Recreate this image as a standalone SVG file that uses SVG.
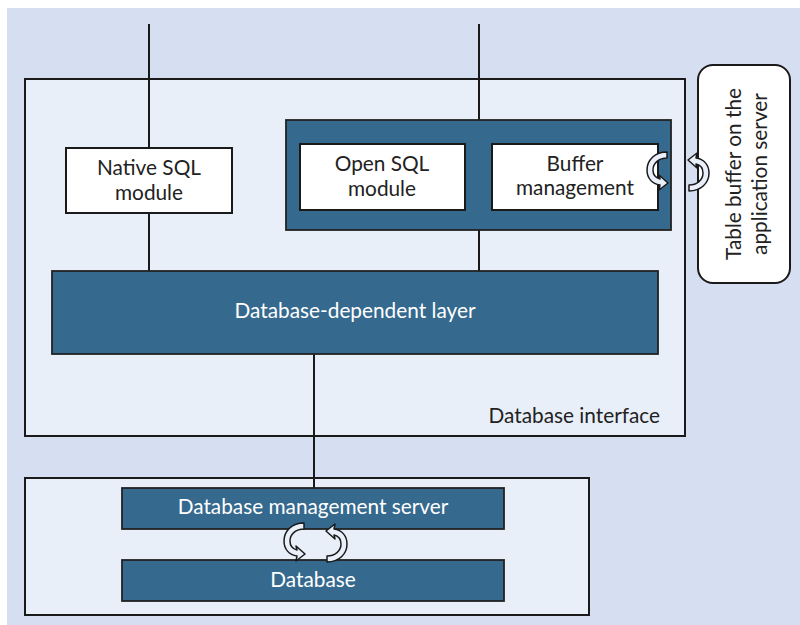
<svg xmlns="http://www.w3.org/2000/svg" width="800" height="625" viewBox="0 0 800 625">
  <style>
    .frame { fill: #e9eff9; stroke: #1a1a1a; stroke-width: 2; }
    .dark { fill: #35698e; stroke: #222; stroke-width: 1.8; }
    .white { fill: #ffffff; stroke: #1a1a1a; stroke-width: 2; }
    .wire { stroke: #1a1a1a; stroke-width: 2; fill: none; }
    .lbl { font-family: Lato, "Open Sans", sans-serif; font-size: 20.8px; fill: #222; text-anchor: middle; }
    .lbl-w { font-family: Lato, "Open Sans", sans-serif; font-size: 20.8px; fill: #ffffff; text-anchor: middle; }
    .cyc { fill: #eaf0fa; stroke: #1a1a1a; stroke-width: 1.5; stroke-linejoin: round; }
  </style>
  <defs>
    <!-- curved exchange arrow: tail top-right, head bottom-right -->
    <path id="curl" d="M 20,0 L 20,6 C 12,6 6,11 6,18 C 6,23 9,26 13,27 L 12,23 L 21,31 L 12,38 L 13,33 C 5,32 0,26 0,18 C 0,8 8,0 20,0 Z"/>
  </defs>

  <!-- backdrop -->
  <rect x="7" y="8" width="793" height="617" fill="#d6dff2"/>

  <!-- database interface container -->
  <g id="db-interface">
    <rect class="frame" x="25" y="79" width="660" height="357"/>
    <text class="lbl" x="660" y="423" style="text-anchor:end">Database interface</text>
  </g>

  <!-- database server container -->
  <g id="db-server">
    <rect class="frame" x="25" y="478" width="564" height="137"/>
  </g>

  <!-- connectors -->
  <g id="connectors">
    <line class="wire" x1="149" y1="24" x2="149" y2="148"/>
    <line class="wire" x1="149" y1="213" x2="149" y2="271"/>
    <line class="wire" x1="479" y1="24" x2="479" y2="120"/>
    <line class="wire" x1="479" y1="230" x2="479" y2="271"/>
    <line class="wire" x1="314" y1="354" x2="314" y2="488"/>
  </g>

  <g id="native-sql">
    <rect class="white" x="66" y="148" width="166" height="65"/>
    <text class="lbl" x="149" y="175">Native SQL</text>
    <text class="lbl" x="149" y="200">module</text>
  </g>

  <g id="open-sql-group">
    <rect class="dark" x="286" y="120" width="385" height="110"/>
  </g>

  <g id="open-sql">
    <rect class="white" x="300" y="144" width="165" height="66"/>
    <text class="lbl" x="382" y="171">Open SQL</text>
    <text class="lbl" x="382" y="196">module</text>
  </g>

  <g id="buffer-management">
    <rect class="white" x="492" y="144" width="166" height="66"/>
    <text class="lbl" x="575" y="171">Buffer</text>
    <text class="lbl" x="575" y="195">management</text>
  </g>

  <g id="db-dependent-layer">
    <rect class="dark" x="52" y="271" width="606" height="83"/>
    <text class="lbl-w" x="355" y="318">Database-dependent layer</text>
  </g>

  <g id="table-buffer">
    <rect x="698" y="65" width="92" height="218" rx="15" ry="15" fill="#ffffff" stroke="#1a1a1a" stroke-width="2"/>
    <text class="lbl" transform="translate(741,174) rotate(-90)">Table buffer on the</text>
    <text class="lbl" transform="translate(767,174) rotate(-90)">application server</text>
  </g>

  <!-- exchange between buffer management and table buffer -->
  <g id="buffer-exchange">
    <use href="#curl" class="cyc" transform="translate(647,152)"/>
    <use href="#curl" class="cyc" transform="translate(709,191) rotate(180)"/>
  </g>

  <g id="dbms">
    <rect class="dark" x="122" y="488" width="382" height="41"/>
    <text class="lbl-w" x="313" y="514">Database management server</text>
  </g>

  <g id="database">
    <rect class="dark" x="122" y="560" width="382" height="41"/>
    <text class="lbl-w" x="313" y="587">Database</text>
  </g>

  <g id="db-exchange">
    <use href="#curl" class="cyc" transform="translate(284,523)"/>
    <use href="#curl" class="cyc" transform="translate(347,562) rotate(180)"/>
  </g>
</svg>
